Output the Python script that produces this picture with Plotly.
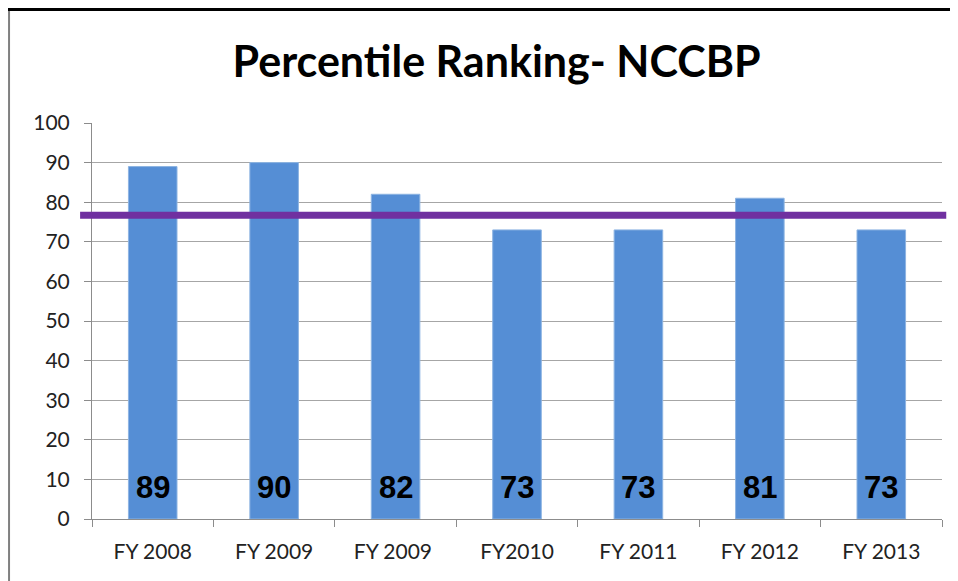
import plotly.graph_objects as go

# chart data
years = ["FY 2008", "FY 2009", "FY 2009 ", "FY2010", "FY 2011", "FY 2012", "FY 2013"]
ranking = [89, 90, 82, 73, 73, 81, 73]
target = 76.7
y_ticks = list(range(0, 101, 10))

fig = go.Figure()
fig.add_trace(go.Bar(x=years, y=ranking, marker=dict(color="#558ED5", line=dict(color="#8DB4E2", width=1)),
                     width=0.4, hoverinfo="x+y"))

# value labels at the foot of each bar
for yr, v in zip(years, ranking):
    fig.add_annotation(x=yr, y=0, text="<b>%d</b>" % v, showarrow=False, yanchor="bottom", yshift=12,
                       font=dict(family="Liberation Sans, Arial", size=31, color="black"))

# target line
fig.add_shape(type="line", xref="paper", yref="y", x0=-0.014, x1=1.005, y0=target, y1=target,
              line=dict(color="#7030A0", width=7))

# outer frame pieces
fig.add_shape(type="line", xref="paper", yref="paper", x0=-0.11, x1=1.05, y0=1.2866, y1=1.2866,
              line=dict(color="black", width=3))
fig.add_shape(type="line", xref="paper", yref="paper", x0=-0.0976, x1=-0.0976, y0=-0.3, y1=1.283,
              line=dict(color="#808080", width=2))

fig.update_layout(
    width=958, height=581,
    margin=dict(l=84, r=24, t=115, b=70),
    paper_bgcolor="white", plot_bgcolor="white",
    showlegend=False, bargap=0.6,
    title=dict(text="<b>Percentile Ranking- NCCBP</b>", x=0.51, xanchor="center", y=0.907, yanchor="middle",
               font=dict(family="Lato, Open Sans, sans-serif", size=43, color="black")),
    font=dict(family="Lato, Open Sans, sans-serif", size=21, color="#222"),
)
fig.update_xaxes(showline=True, linecolor="#8c8c8c", linewidth=1, ticks="outside", tickson="boundaries",
                 ticklen=7, tickcolor="#8c8c8c", showgrid=False, tickfont=dict(size=21),
                 ticklabelstandoff=14)
fig.update_yaxes(range=[0, 100], tickvals=y_ticks, showline=True, linecolor="#8c8c8c", linewidth=1,
                 ticks="outside", ticklen=7, tickcolor="#8c8c8c", gridcolor="#a6a6a6", gridwidth=1,
                 zeroline=False, tickfont=dict(size=21), ticklabelstandoff=10)

fig.write_html("out.html")
